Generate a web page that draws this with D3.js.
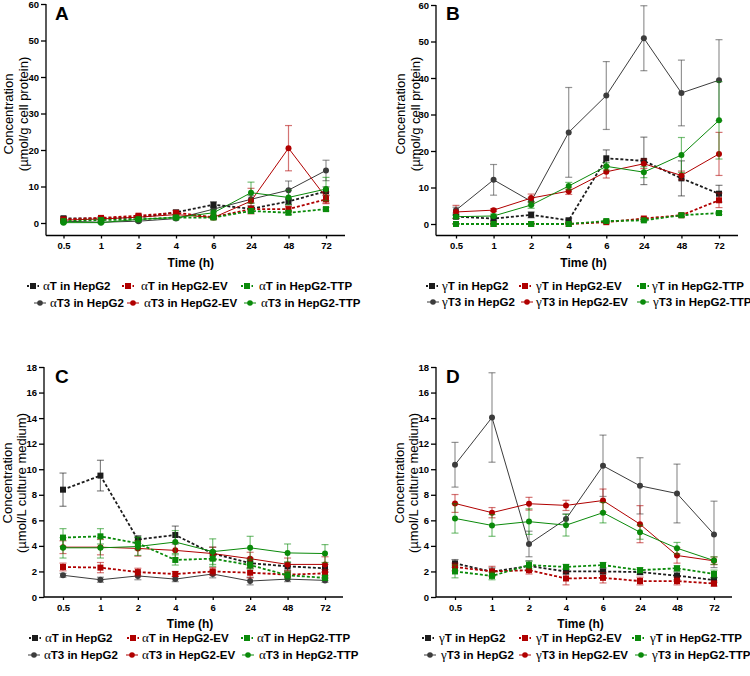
<!DOCTYPE html>
<html><head><meta charset="utf-8">
<script src="https://cdn.jsdelivr.net/npm/d3@7/dist/d3.min.js"></script>
<style>body{margin:0;background:#fff;} svg{display:block;}</style>
</head><body>
<svg id="chart" width="750" height="676"></svg>
<script>
// ---------- DATA ----------
const timeLabels = ["0.5","1","2","4","6","24","48","72"];
const cellLines = ["HepG2","HepG2-EV","HepG2-TTP"];
const seriesColors = ["#1c1c1c","#b00000","#0a8a0a"];
const t3Colors = ["#3c3c3c","#b00000","#0a8a0a"];

// Panel A: alpha, cells (µmol/g cell protein)
const aT_cell    = [[1.3,1.2,1.5,2.9,5.0,3.9,5.9,8.7],[1.0,1.4,2.0,2.8,1.6,3.8,3.8,6.5],[0.5,0.8,1.0,1.5,1.5,3.3,2.8,3.8]];
const aT_cell_sd = [[0.4,0.3,0.4,0.6,0.8,0.8,0.9,1.2],[0.3,0.3,0.4,0.5,0.4,0.8,0.8,1.2],[0.2,0.2,0.3,0.3,0.3,0.6,0.5,0.5]];
const aT3_cell    = [[0.5,0.2,0.5,1.2,3.8,6.5,9.0,14.4],[0.8,1.1,1.6,2.3,1.5,6.0,20.5,7.0],[0.1,0.1,1.0,1.5,2.8,8.3,7.0,9.3]];
const aT3_cell_sd = [[0.2,0.2,0.3,0.3,0.7,1.0,2.5,2.8],[0.3,0.3,0.4,0.4,0.4,3.5,6.2,1.5],[0.2,0.2,0.3,0.4,0.8,2.9,2.0,3.2]];

// Panel B: gamma, cells
const gT_cell    = [[2.0,1.5,2.5,1.0,18.0,17.3,12.5,8.3],[0,0,0,0,0.5,1.5,2.4,6.5],[0,0,0,0,0.8,1.0,2.4,3.0]];
const gT_cell_sd = [[0.5,0.5,0.8,0.6,2.3,6.5,4.8,2.3],[0.1,0.1,0.1,0.1,0.2,0.3,0.4,2.0],[0.1,0.1,0.1,0.1,0.2,0.3,0.4,0.4]];
const gT3_cell    = [[3.8,12.1,6.2,25.1,35.2,50.9,35.9,39.4],[3.3,3.8,7.1,9.0,14.3,16.5,13.3,19.2],[2.0,2.2,5.2,10.4,15.8,14.2,18.9,28.4]];
const gT3_cell_sd = [[0.8,4.2,1.0,12.3,9.3,8.9,9.0,11.1],[1.8,0.4,1.1,0.9,1.7,1.3,1.2,5.9],[0.4,0.5,0.9,1.0,1.0,1.5,4.8,10.6]];

// Panel C: alpha, culture medium (µmol/L)
const aT_med    = [[8.4,9.5,4.5,4.85,3.4,2.65,2.4,2.25],[2.35,2.3,1.95,1.8,2.0,1.9,1.75,1.85],[4.65,4.75,4.2,2.9,3.0,2.5,1.7,1.5]];
const aT_med_sd = [[1.3,1.2,0.3,0.7,0.5,0.4,0.3,0.3],[0.3,0.4,0.3,0.2,0.3,0.4,0.2,0.3],[0.7,0.6,0.5,0.4,0.6,0.3,0.3,0.2]];
const aT3_med    = [[1.7,1.35,1.65,1.4,1.8,1.25,1.4,1.3],[3.9,3.9,3.8,3.65,3.4,3.0,2.55,2.55],[3.85,3.85,3.95,4.3,3.55,3.85,3.45,3.4]];
const aT3_med_sd = [[0.15,0.2,0.3,0.2,0.3,0.3,0.2,0.15],[0.5,0.6,0.6,0.6,0.5,0.5,0.5,0.6],[0.8,0.8,0.7,0.9,1.0,0.9,0.7,0.7]];

// Panel D: gamma, culture medium
const gT_med    = [[2.63,1.98,2.43,2.0,2.0,1.95,1.67,1.33],[2.35,2.0,2.1,1.45,1.5,1.25,1.25,1.05],[2.0,1.65,2.5,2.35,2.5,2.1,2.25,1.8]];
const gT_med_sd = [[0.3,0.3,0.4,0.2,0.2,0.2,0.3,0.2],[0.3,0.4,0.3,0.5,0.4,0.3,0.3,0.2],[0.5,0.3,0.3,0.2,0.2,0.2,0.2,0.3]];
const gT3_med    = [[10.35,14.05,4.15,6.1,10.27,8.7,8.1,4.9],[7.32,6.6,7.3,7.17,7.55,5.7,3.25,2.83],[6.15,5.6,5.9,5.62,6.6,5.07,3.82,2.85]];
const gT3_med_sd = [[1.75,3.5,1.0,0.4,2.4,2.2,2.3,2.6],[0.7,0.4,0.5,0.4,0.9,1.45,0.6,0.3],[1.15,0.85,1.0,0.85,0.8,0.55,0.45,0.3]];

const yTitleLine1 = "Concentration";
const panels = [
  {letter:"A", greek:"α", yMax:60, yStep:10, unit:"(µmol/g cell protein)", T:aT_cell, Tsd:aT_cell_sd, T3:aT3_cell, T3sd:aT3_cell_sd,
   ax:46, yTop:4, yZero:223, xAxisY:235.5, x0:63.5, x1:326, xEnd:345, titleX:[8,23], titleY:114, letterX:55, letterY:20,
   legY:[290,307], legM:[[33,128,247],[40,133,250]], legT:[[43,141,259],[50,144,261]]},
  {letter:"B", greek:"γ", yMax:60, yStep:10, unit:"(µmol/g cell protein)", T:gT_cell, Tsd:gT_cell_sd, T3:gT3_cell, T3sd:gT3_cell_sd,
   ax:436, yTop:5, yZero:224, xAxisY:235.5, x0:456, x1:719, xEnd:738, titleX:[400,415], titleY:114, letterX:446, letterY:20,
   legY:[290,306], legM:[[432,525,643],[433,527,643]], legT:[[442,536,652],[442,536,653]]},
  {letter:"C", greek:"α", yMax:18, yStep:2, unit:"(µmol/L culture medium)", T:aT_med, Tsd:aT_med_sd, T3:aT3_med, T3sd:aT3_med_sd,
   ax:44, yTop:367, yZero:597, xAxisY:597, x0:63, x1:325, xEnd:343, titleX:[7,21], titleY:483, letterX:55, letterY:383,
   legY:[642,659], legM:[[35,133,247],[34,132,248]], legT:[[45,142,257],[44,142,259]]},
  {letter:"D", greek:"γ", yMax:18, yStep:2, unit:"(µmol/L culture medium)", T:gT_med, Tsd:gT_med_sd, T3:gT3_med, T3sd:gT3_med_sd,
   ax:436, yTop:367, yZero:597, xAxisY:597, x0:455, x1:714, xEnd:732, titleX:[399,413], titleY:483, letterX:446, letterY:383,
   legY:[642,659], legM:[[428,525,638],[430,525,641]], legT:[[439,536,650],[441,536,652]]}
];

const svg = d3.select("#chart");
const FONT = "Liberation Sans, Arial, sans-serif";

panels.forEach(p => {
  const g = svg.append("g");
  const x = d3.scalePoint().domain(timeLabels).range([p.x0, p.x1]);
  const y = d3.scaleLinear().domain([0, p.yMax]).range([p.yZero, p.yTop]);

  // y axis
  const yAxis = d3.axisLeft(y).tickValues(d3.range(0, p.yMax + 0.001, p.yStep)).tickSize(5).tickSizeOuter(0).tickPadding(2);
  const yg = g.append("g").attr("transform", `translate(${p.ax},0)`).call(yAxis);
  yg.select(".domain").remove();
  g.append("line").attr("x1", p.ax).attr("x2", p.ax).attr("y1", p.yTop).attr("y2", p.xAxisY)
    .attr("stroke", "#000").attr("stroke-width", 1.3);
  yg.selectAll("line").attr("stroke-width", 1.3);
  yg.selectAll("text").attr("font-family", FONT).attr("font-weight", "bold").attr("font-size", 9.5).attr("fill", "#000");

  // x axis
  const xAxis = d3.axisBottom(x).tickSize(3).tickSizeOuter(0).tickPadding(4);
  const xg = g.append("g").attr("transform", `translate(0,${p.xAxisY})`).call(xAxis);
  xg.select(".domain").remove();
  g.append("line").attr("x1", p.ax).attr("x2", p.xEnd).attr("y1", p.xAxisY).attr("y2", p.xAxisY)
    .attr("stroke", "#000").attr("stroke-width", 1.3);
  xg.selectAll("line").attr("stroke-width", 1.3);
  xg.selectAll("text").attr("font-family", FONT).attr("font-weight", "bold").attr("font-size", 9.5).attr("fill", "#000");

  // axis titles
  g.append("text").attr("transform", `translate(${p.titleX[0]},${p.titleY}) rotate(-90)`)
    .attr("text-anchor", "middle").attr("dominant-baseline", "central")
    .attr("font-family", FONT).attr("font-size", 13).text(yTitleLine1);
  g.append("text").attr("transform", `translate(${p.titleX[1]},${p.titleY}) rotate(-90)`)
    .attr("text-anchor", "middle").attr("dominant-baseline", "central")
    .attr("font-family", FONT).attr("font-size", 13).text(p.unit);
  g.append("text").attr("x", (p.x0 + p.x1) / 2 - 4).attr("y", p.xAxisY + 31)
    .attr("text-anchor", "middle").attr("font-family", FONT).attr("font-weight", "bold").attr("font-size", 12).text("Time (h)");

  // panel letter
  g.append("text").attr("x", p.letterX).attr("y", p.letterY).attr("font-family", FONT)
    .attr("font-weight", "bold").attr("font-size", 19).text(p.letter);

  // series
  const line = d3.line().x((d, i) => x(timeLabels[i])).y(d => y(d));
  const groups = [];
  for (let c = 0; c < 3; c++) {
    groups.push({vals: p.T3[c], sd: p.T3sd[c], color: t3Colors[c], dashed: false, marker: "circle"});
    groups.push({vals: p.T[c], sd: p.Tsd[c], color: seriesColors[c], dashed: true, marker: "square"});
  }
  groups.forEach(s => {
    const sg = g.append("g");
    s.vals.forEach((v, i) => {
      const cx = x(timeLabels[i]);
      const lo = y(Math.max(0, v - s.sd[i])), hi = y(v + s.sd[i]);
      sg.append("line").attr("x1", cx).attr("x2", cx).attr("y1", lo).attr("y2", hi)
        .attr("stroke", s.color).attr("stroke-opacity", 0.55).attr("stroke-width", 1.2);
      [lo, hi].forEach(yy => sg.append("line").attr("x1", cx - 3.5).attr("x2", cx + 3.5).attr("y1", yy).attr("y2", yy)
        .attr("stroke", s.color).attr("stroke-opacity", 0.55).attr("stroke-width", 1.2));
    });
    sg.append("path").attr("d", line(s.vals)).attr("fill", "none").attr("stroke", s.color)
      .attr("stroke-width", s.dashed ? 1.8 : 1).attr("stroke-dasharray", s.dashed ? "3,2" : null);
    s.vals.forEach((v, i) => {
      const cx = x(timeLabels[i]), cy = y(v);
      if (s.marker === "square") sg.append("rect").attr("x", cx - 3).attr("y", cy - 3).attr("width", 6).attr("height", 6).attr("fill", s.color);
      else sg.append("circle").attr("cx", cx).attr("cy", cy).attr("r", 3).attr("fill", s.color);
    });
  });

  // legend
  for (let row = 0; row < 2; row++) {
    for (let c = 0; c < 3; c++) {
      const mx = p.legM[row][c], ly = p.legY[row];
      const color = row === 0 ? seriesColors[c] : t3Colors[c];
      g.append("line").attr("x1", mx - 6).attr("x2", mx + 6).attr("y1", ly - 4).attr("y2", ly - 4)
        .attr("stroke", color).attr("stroke-width", row === 0 ? 1.8 : 1).attr("stroke-dasharray", row === 0 ? "2,1.5" : null);
      if (row === 0) g.append("rect").attr("x", mx - 3).attr("y", ly - 7).attr("width", 6).attr("height", 6).attr("fill", color);
      else g.append("circle").attr("cx", mx).attr("cy", ly - 4).attr("r", 2.8).attr("fill", color);
      const t = g.append("text").attr("x", p.legT[row][c]).attr("y", ly).attr("font-family", FONT)
        .attr("font-weight", "bold").attr("font-size", 11.5).attr("fill", "#000");
      t.append("tspan").attr("font-family", "Liberation Serif, Times New Roman, serif").attr("font-weight", "normal")
        .attr("font-size", 13).text(p.greek);
      t.append("tspan").text((row === 0 ? "T" : "T3") + " in " + cellLines[c]);
    }
  }
});
</script>
</body></html>
